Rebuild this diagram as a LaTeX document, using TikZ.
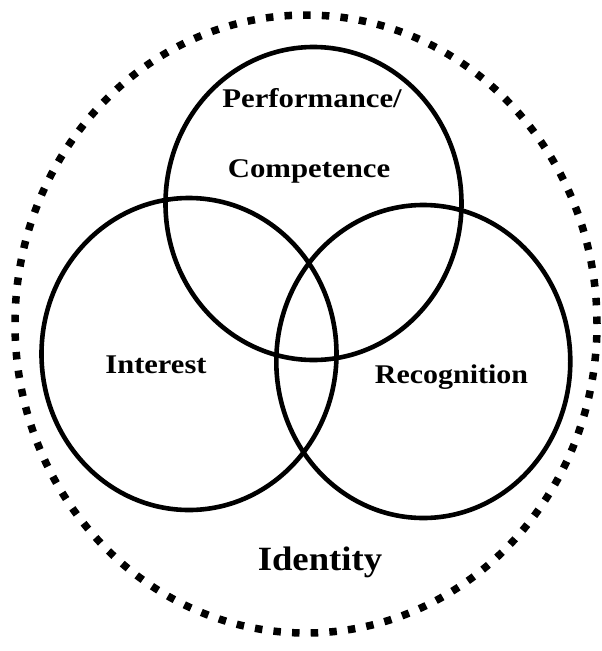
\documentclass[tikz,border=0pt]{standalone}
\usepackage{fontspec}
\setmainfont{Liberation Serif}
\begin{document}
\begin{tikzpicture}[x=1pt,y=-1pt,
  ring/.style={line width=4.6pt},
  outerring/.style={line width=7.5pt, dash pattern=on 7.5pt off 11.17pt, line cap=butt},
  lbl/.style={font=\fontsize{27}{30}\selectfont\bfseries, inner sep=0pt, anchor=base},
  big/.style={font=\fontsize{34}{38}\selectfont\bfseries, inner sep=0pt, anchor=base}]
\useasboundingbox (0,0) rectangle (602,651);
\fill[white] (0,0) rectangle (602,651);
% outer dotted identity ring
\draw[outerring] (306,324) ellipse [x radius=291pt, y radius=309pt];
% three circles
\draw[ring] (313.5,203.5) ellipse [x radius=148pt, y radius=156.5pt];
\draw[ring] (189,354) ellipse [x radius=147.5pt, y radius=156pt];
\draw[ring] (423.3,361.5) ellipse [x radius=147pt, y radius=156.5pt];
% labels
\node[lbl] (perf) at (312,107) {\scalebox{1.14}[1]{Performance/}};
\node[lbl] (comp) at (309,177) {\scalebox{1.14}[1]{Competence}};
\node[lbl] (int) at (156,373) {\scalebox{1.13}[1]{Interest}};
\node[lbl] (rec) at (451.5,383) {\scalebox{1.11}[1]{Recognition}};
\node[big] (id) at (320,570) {\scalebox{1.08}[1]{Identity}};
\end{tikzpicture}
\end{document}
